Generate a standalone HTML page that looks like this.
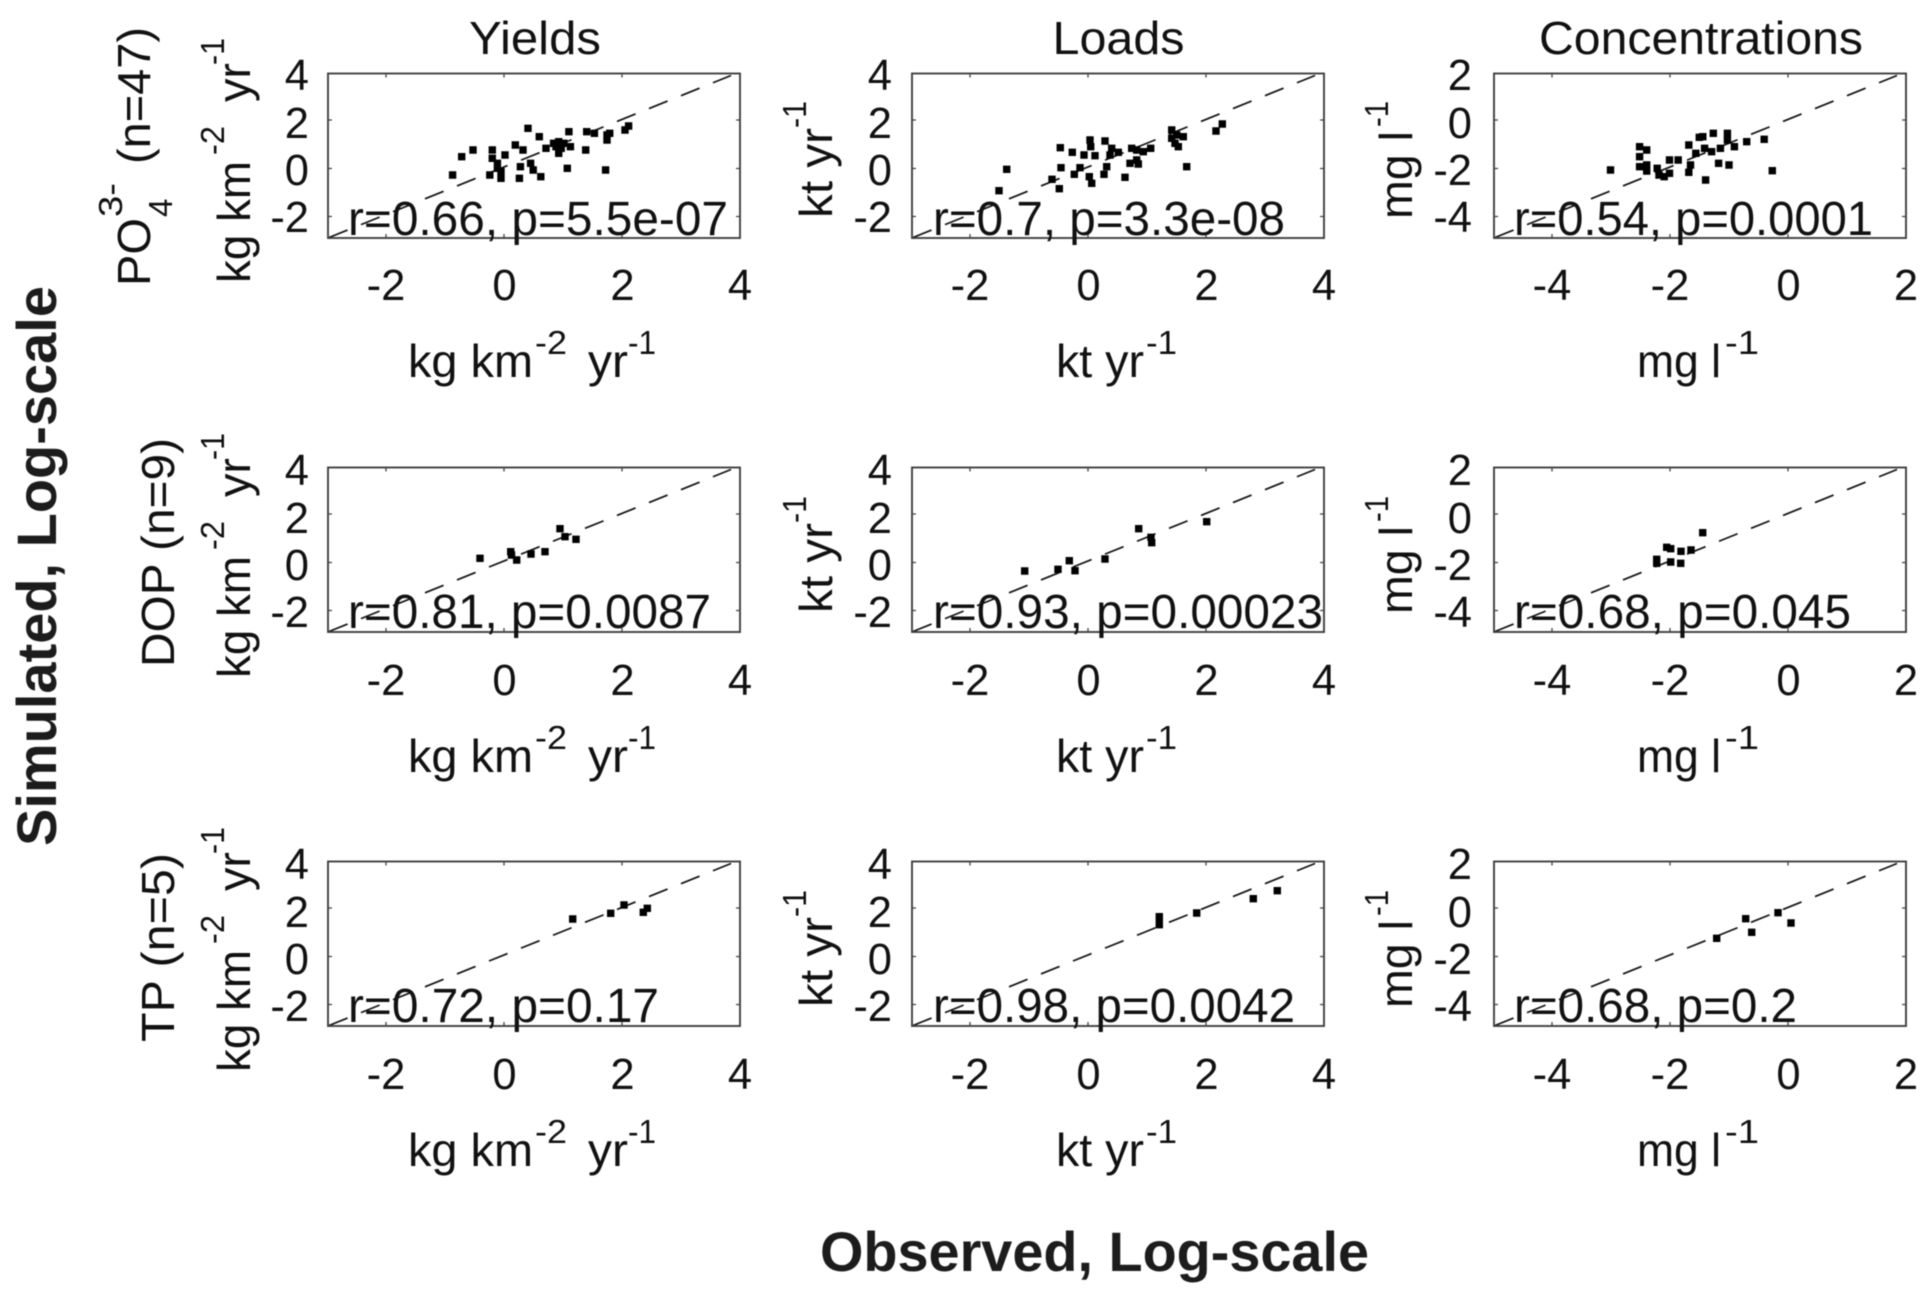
<!DOCTYPE html>
<html>
<head>
<meta charset="utf-8">
<style>
html,body{margin:0;padding:0;background:#fff;width:1930px;height:1302px;overflow:hidden}
svg{display:block;filter:blur(.65px)}
text{font-family:"Liberation Sans",Arial,sans-serif;fill:#111}
.t{font-size:43.5px}
.m{text-anchor:middle}
.e{text-anchor:end}
.a{font-size:48px}
.l{font-size:46px}
.s{font-size:33px}
.b{font-size:56px;font-weight:bold;fill:#1c1c1c}
.pts{fill:none;stroke:#000;stroke-width:7.4;stroke-linecap:square}
</style>
</head>
<body>
<svg width="1930" height="1302" viewBox="0 0 1930 1302" xmlns="http://www.w3.org/2000/svg">
<defs>
<g id="ax" fill="none">
<path d="M1 164L403 2" stroke="#111" stroke-width="1.7" stroke-dasharray="20 14.5"/>
<path d="M58 0v4M176 0v4M294 0v4M58 164.5v-4M176 164.5v-4M294 164.5v-4M0 46.5h4M0 95h4M0 143h4M412 46.5h-4M412 95h-4M412 143h-4" stroke="#444" stroke-width="1.3"/>
<rect x="0" y="0" width="412" height="164.5" stroke="#404040" stroke-width="1.9"/>
</g>
</defs>
<rect width="1930" height="1302" fill="#fff"/>

<use href="#ax" x="328" y="73.5"/><use href="#ax" x="912" y="73.5"/><use href="#ax" x="1494" y="73.5"/>
<use href="#ax" x="328" y="467.5"/><use href="#ax" x="912" y="467.5"/><use href="#ax" x="1494" y="467.5"/>
<use href="#ax" x="328" y="861.5"/><use href="#ax" x="912" y="861.5"/><use href="#ax" x="1494" y="861.5"/>

<path class="pts" d="M452.6 175h0M461.7 156.7h0M473 150h0M492.3 150h0M492.3 158.3h0M505 155h0M515.3 145h0M523 150h0M497.4 163.3h0M497.4 168.3h0M489.8 175h0M501 178.3h0M501 171.7h0M519.4 178.3h0M520.4 166.7h0M530.6 163.3h0M533.2 170h0M540.8 176.7h0M528 128.3h0M539.3 136.7h0M546 148.3h0M558.7 141.7h0M556 146.7h0M558.7 153.3h0M568.9 131.7h0M570.4 146.7h0M585.7 150h0M567.3 168.3h0M586.7 131.7h0M594.4 133.3h0M607 135h0M609.7 133.3h0M607 140h0M625 130h0M628.6 126h0M605.6 170h0M553.6 143.3h0M561.2 148.3h0M563.8 143.3h0"/>
<path class="pts" d="M999 190.7h0M1006.7 169.3h0M1060.3 147.7h0M1061 167.7h0M1059.3 188.7h0M1052 179.3h0M1072.3 152.3h0M1074.3 174.3h0M1080 167.7h0M1084 155h0M1090 140h0M1090.7 146.7h0M1089.3 176.7h0M1091.7 183.3h0M1095 155.7h0M1105 141h0M1104 174.3h0M1106.7 166.7h0M1110 155h0M1111.7 148.3h0M1118.3 152.3h0M1125 177.3h0M1130 163.3h0M1131.7 148.3h0M1136.7 150h0M1138.3 164h0M1143.3 151.7h0M1150.7 148.3h0M1171.7 130h0M1171.7 138.3h0M1176.7 135h0M1175 143.3h0M1183.3 136.7h0M1178.3 146.7h0M1186.7 166.7h0M1216 131h0M1222.3 124h0M1136.7 160h0"/>
<path class="pts" d="M1610.5 170h0M1639.6 146.7h0M1646.7 150h0M1639.6 156.7h0M1639.6 166.7h0M1646.7 165h0M1646.7 171h0M1657.2 168.3h0M1659 175h0M1664.2 176.7h0M1669.5 173.3h0M1669.5 160h0M1678.2 160h0M1688.8 145h0M1699.3 137.3h0M1702.8 136.7h0M1713.3 133.3h0M1727.4 133.3h0M1690.5 165h0M1688.8 172.3h0M1695.8 153.3h0M1704.6 148.3h0M1711.6 151.7h0M1718.6 163.3h0M1720.4 148.3h0M1727.4 140h0M1734.4 146.7h0M1729 165h0M1746.7 141.7h0M1764.2 139.3h0M1772.3 170.7h0M1705.6 180h0"/>
<path class="pts" d="M480 558.3h0M510.7 551.7h0M516.7 560h0M531 554h0M545 551.7h0M560 528.7h0M565 536.7h0M576 539.3h0M511.5 555h0"/>
<path class="pts" d="M1024.7 571h0M1058 569.3h0M1069.3 560.7h0M1075 570.7h0M1105 559h0M1138.7 528.7h0M1151 537.3h0M1151.7 542.7h0M1206.7 521.7h0"/>
<path class="pts" d="M1702.7 532.7h0M1666.7 547.3h0M1670.7 548.7h0M1681 551.3h0M1691 550h0M1656.7 559.3h0M1656.7 563.3h0M1670.7 562h0M1680.7 563.3h0"/>
<path class="pts" d="M572.7 919h0M610.7 913.3h0M624 905h0M643.3 912.3h0M647.3 908.3h0"/>
<path class="pts" d="M1159.3 916.7h0M1159.3 920.7h0M1159.3 924.7h0M1196.7 913h0M1253.3 898.7h0M1277.3 890.7h0"/>
<path class="pts" d="M1716.7 938.3h0M1745.7 918.7h0M1751.7 932.3h0M1778 912.7h0M1791 923h0"/>

<!-- titles -->
<text class="l m" x="535" y="54" textLength="132" lengthAdjust="spacingAndGlyphs">Yields</text>
<text class="l m" x="1118.5" y="54" textLength="132" lengthAdjust="spacingAndGlyphs">Loads</text>
<text class="l m" x="1701" y="54" textLength="324" lengthAdjust="spacingAndGlyphs">Concentrations</text>

<!-- x tick labels -->
<text class="t m" x="386" y="300">-2</text><text class="t m" x="504.5" y="300">0</text><text class="t m" x="622.5" y="300">2</text><text class="t m" x="740" y="300">4</text>
<text class="t m" x="970" y="300">-2</text><text class="t m" x="1088.5" y="300">0</text><text class="t m" x="1206.5" y="300">2</text><text class="t m" x="1324" y="300">4</text>
<text class="t m" x="1552" y="300">-4</text><text class="t m" x="1670" y="300">-2</text><text class="t m" x="1788.5" y="300">0</text><text class="t m" x="1906" y="300">2</text>
<text class="t m" x="386" y="695">-2</text><text class="t m" x="504.5" y="695">0</text><text class="t m" x="622.5" y="695">2</text><text class="t m" x="740" y="695">4</text>
<text class="t m" x="970" y="695">-2</text><text class="t m" x="1088.5" y="695">0</text><text class="t m" x="1206.5" y="695">2</text><text class="t m" x="1324" y="695">4</text>
<text class="t m" x="1552" y="695">-4</text><text class="t m" x="1670" y="695">-2</text><text class="t m" x="1788.5" y="695">0</text><text class="t m" x="1906" y="695">2</text>
<text class="t m" x="386" y="1089">-2</text><text class="t m" x="504.5" y="1089">0</text><text class="t m" x="622.5" y="1089">2</text><text class="t m" x="740" y="1089">4</text>
<text class="t m" x="970" y="1089">-2</text><text class="t m" x="1088.5" y="1089">0</text><text class="t m" x="1206.5" y="1089">2</text><text class="t m" x="1324" y="1089">4</text>
<text class="t m" x="1552" y="1089">-4</text><text class="t m" x="1670" y="1089">-2</text><text class="t m" x="1788.5" y="1089">0</text><text class="t m" x="1906" y="1089">2</text>

<!-- y tick labels -->
<text class="t e" x="309" y="90">4</text><text class="t e" x="309" y="138">2</text><text class="t e" x="309" y="185">0</text><text class="t e" x="309" y="232">-2</text>
<text class="t e" x="892" y="90">4</text><text class="t e" x="892" y="138">2</text><text class="t e" x="892" y="185">0</text><text class="t e" x="892" y="232">-2</text>
<text class="t e" x="1472" y="90">2</text><text class="t e" x="1472" y="138">0</text><text class="t e" x="1472" y="185">-2</text><text class="t e" x="1472" y="232">-4</text>
<text class="t e" x="309" y="485">4</text><text class="t e" x="309" y="533">2</text><text class="t e" x="309" y="580">0</text><text class="t e" x="309" y="627">-2</text>
<text class="t e" x="892" y="485">4</text><text class="t e" x="892" y="533">2</text><text class="t e" x="892" y="580">0</text><text class="t e" x="892" y="627">-2</text>
<text class="t e" x="1472" y="485">2</text><text class="t e" x="1472" y="533">0</text><text class="t e" x="1472" y="580">-2</text><text class="t e" x="1472" y="627">-4</text>
<text class="t e" x="309" y="879">4</text><text class="t e" x="309" y="927">2</text><text class="t e" x="309" y="974">0</text><text class="t e" x="309" y="1021">-2</text>
<text class="t e" x="892" y="879">4</text><text class="t e" x="892" y="927">2</text><text class="t e" x="892" y="974">0</text><text class="t e" x="892" y="1021">-2</text>
<text class="t e" x="1472" y="879">2</text><text class="t e" x="1472" y="927">0</text><text class="t e" x="1472" y="974">-2</text><text class="t e" x="1472" y="1021">-4</text>

<!-- annotations -->
<text class="a" x="348" y="235" textLength="380" lengthAdjust="spacingAndGlyphs">r=0.66, p=5.5e-07</text>
<text class="a" x="933" y="235" textLength="352" lengthAdjust="spacingAndGlyphs">r=0.7, p=3.3e-08</text>
<text class="a" x="1514" y="235" textLength="359" lengthAdjust="spacingAndGlyphs">r=0.54, p=0.0001</text>
<text class="a" x="348" y="628" textLength="363" lengthAdjust="spacingAndGlyphs">r=0.81, p=0.0087</text>
<text class="a" x="933" y="628" textLength="390" lengthAdjust="spacingAndGlyphs">r=0.93, p=0.00023</text>
<text class="a" x="1514" y="628" textLength="337" lengthAdjust="spacingAndGlyphs">r=0.68, p=0.045</text>
<text class="a" x="348" y="1022" textLength="311" lengthAdjust="spacingAndGlyphs">r=0.72, p=0.17</text>
<text class="a" x="933" y="1022" textLength="362" lengthAdjust="spacingAndGlyphs">r=0.98, p=0.0042</text>
<text class="a" x="1514" y="1022" textLength="283" lengthAdjust="spacingAndGlyphs">r=0.68, p=0.2</text>

<!-- x labels row 1 -->
<text class="l" x="408" y="377" textLength="125" lengthAdjust="spacingAndGlyphs">kg km</text><text class="s" x="535" y="354" textLength="32" lengthAdjust="spacingAndGlyphs">-2</text><text class="l" x="588" y="377" textLength="40" lengthAdjust="spacingAndGlyphs">yr</text><text class="s" x="628" y="354" textLength="28" lengthAdjust="spacingAndGlyphs">-1</text>
<text class="l" x="1056" y="377" textLength="88" lengthAdjust="spacingAndGlyphs">kt yr</text><text class="s" x="1146" y="354" textLength="31" lengthAdjust="spacingAndGlyphs">-1</text>
<text class="l" x="1637" y="377" textLength="84" lengthAdjust="spacingAndGlyphs">mg l</text><text class="s" x="1725" y="354" textLength="34" lengthAdjust="spacingAndGlyphs">-1</text>
<!-- x labels row 2 -->
<text class="l" x="408" y="772" textLength="125" lengthAdjust="spacingAndGlyphs">kg km</text><text class="s" x="535" y="749" textLength="32" lengthAdjust="spacingAndGlyphs">-2</text><text class="l" x="588" y="772" textLength="40" lengthAdjust="spacingAndGlyphs">yr</text><text class="s" x="628" y="749" textLength="28" lengthAdjust="spacingAndGlyphs">-1</text>
<text class="l" x="1056" y="772" textLength="88" lengthAdjust="spacingAndGlyphs">kt yr</text><text class="s" x="1146" y="749" textLength="31" lengthAdjust="spacingAndGlyphs">-1</text>
<text class="l" x="1637" y="772" textLength="84" lengthAdjust="spacingAndGlyphs">mg l</text><text class="s" x="1725" y="749" textLength="34" lengthAdjust="spacingAndGlyphs">-1</text>
<!-- x labels row 3 -->
<text class="l" x="408" y="1166" textLength="125" lengthAdjust="spacingAndGlyphs">kg km</text><text class="s" x="535" y="1143" textLength="32" lengthAdjust="spacingAndGlyphs">-2</text><text class="l" x="588" y="1166" textLength="40" lengthAdjust="spacingAndGlyphs">yr</text><text class="s" x="628" y="1143" textLength="28" lengthAdjust="spacingAndGlyphs">-1</text>
<text class="l" x="1056" y="1166" textLength="88" lengthAdjust="spacingAndGlyphs">kt yr</text><text class="s" x="1146" y="1143" textLength="31" lengthAdjust="spacingAndGlyphs">-1</text>
<text class="l" x="1637" y="1166" textLength="84" lengthAdjust="spacingAndGlyphs">mg l</text><text class="s" x="1725" y="1143" textLength="34" lengthAdjust="spacingAndGlyphs">-1</text>

<!-- y labels col 1 -->
<text class="l" transform="translate(250,283) rotate(-90)" textLength="122" lengthAdjust="spacingAndGlyphs">kg km</text><text class="s" transform="translate(224,155) rotate(-90)" textLength="29" lengthAdjust="spacingAndGlyphs">-2</text><text class="l" transform="translate(250,102) rotate(-90)" textLength="39" lengthAdjust="spacingAndGlyphs">yr</text><text class="s" transform="translate(224,65) rotate(-90)" textLength="27" lengthAdjust="spacingAndGlyphs">-1</text>
<text class="l" transform="translate(250,678) rotate(-90)" textLength="122" lengthAdjust="spacingAndGlyphs">kg km</text><text class="s" transform="translate(224,550) rotate(-90)" textLength="29" lengthAdjust="spacingAndGlyphs">-2</text><text class="l" transform="translate(250,497) rotate(-90)" textLength="39" lengthAdjust="spacingAndGlyphs">yr</text><text class="s" transform="translate(224,460) rotate(-90)" textLength="27" lengthAdjust="spacingAndGlyphs">-1</text>
<text class="l" transform="translate(250,1072) rotate(-90)" textLength="122" lengthAdjust="spacingAndGlyphs">kg km</text><text class="s" transform="translate(224,944) rotate(-90)" textLength="29" lengthAdjust="spacingAndGlyphs">-2</text><text class="l" transform="translate(250,891) rotate(-90)" textLength="39" lengthAdjust="spacingAndGlyphs">yr</text><text class="s" transform="translate(224,854) rotate(-90)" textLength="27" lengthAdjust="spacingAndGlyphs">-1</text>

<!-- y labels col 2 -->
<text class="l" transform="translate(832,218) rotate(-90)" textLength="90" lengthAdjust="spacingAndGlyphs">kt yr</text><text class="s" transform="translate(806,128) rotate(-90)" textLength="27" lengthAdjust="spacingAndGlyphs">-1</text>
<text class="l" transform="translate(832,613) rotate(-90)" textLength="90" lengthAdjust="spacingAndGlyphs">kt yr</text><text class="s" transform="translate(806,523) rotate(-90)" textLength="27" lengthAdjust="spacingAndGlyphs">-1</text>
<text class="l" transform="translate(832,1007) rotate(-90)" textLength="90" lengthAdjust="spacingAndGlyphs">kt yr</text><text class="s" transform="translate(806,917) rotate(-90)" textLength="27" lengthAdjust="spacingAndGlyphs">-1</text>

<!-- y labels col 3 -->
<text class="l" transform="translate(1412,219) rotate(-90)" textLength="88" lengthAdjust="spacingAndGlyphs">mg l</text><text class="s" transform="translate(1388,127) rotate(-90)" textLength="26" lengthAdjust="spacingAndGlyphs">-1</text>
<text class="l" transform="translate(1412,614) rotate(-90)" textLength="88" lengthAdjust="spacingAndGlyphs">mg l</text><text class="s" transform="translate(1388,522) rotate(-90)" textLength="26" lengthAdjust="spacingAndGlyphs">-1</text>
<text class="l" transform="translate(1412,1008) rotate(-90)" textLength="88" lengthAdjust="spacingAndGlyphs">mg l</text><text class="s" transform="translate(1388,916) rotate(-90)" textLength="26" lengthAdjust="spacingAndGlyphs">-1</text>

<!-- row labels -->
<text class="l" transform="translate(150,286) rotate(-90)" textLength="68" lengthAdjust="spacingAndGlyphs">PO</text>
<text class="s" transform="translate(172,217) rotate(-90)">4</text>
<text class="s" transform="translate(122,217) rotate(-90)" textLength="34" lengthAdjust="spacingAndGlyphs">3-</text>
<text class="l" transform="translate(150,164) rotate(-90)" textLength="137" lengthAdjust="spacingAndGlyphs">(n=47)</text>
<text class="l" transform="translate(174,667) rotate(-90)" textLength="229" lengthAdjust="spacingAndGlyphs">DOP (n=9)</text>
<text class="l" transform="translate(174,1042) rotate(-90)" textLength="189" lengthAdjust="spacingAndGlyphs">TP (n=5)</text>

<!-- global labels -->
<text class="b" transform="translate(56,846) rotate(-90)" textLength="560" lengthAdjust="spacingAndGlyphs">Simulated, Log-scale</text>
<text class="b" x="820" y="1271" textLength="549" lengthAdjust="spacingAndGlyphs">Observed, Log-scale</text>
</svg>
</body>
</html>
